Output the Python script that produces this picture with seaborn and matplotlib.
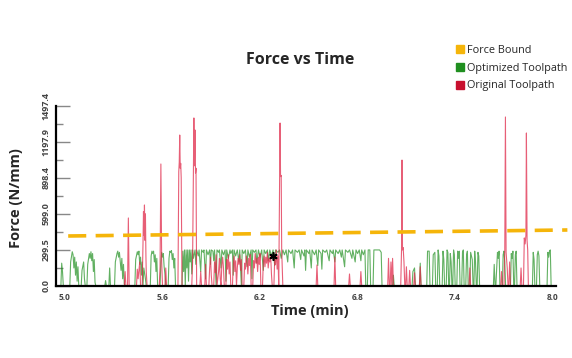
import matplotlib
matplotlib.use("Agg")
import matplotlib.pyplot as plt
from matplotlib.lines import Line2D
from matplotlib.ticker import FixedLocator
import seaborn as sns
import pandas as pd

# ---------------- data ----------------
opt_t = [4.975, 4.98, 4.985, 4.99, 5.03, 5.035, 5.045, 5.05, 5.055, 5.06, 5.065, 5.07, 5.075, 5.08, 5.085,
         5.10, 5.105, 5.115, 5.12, 5.125, 5.135, 5.14, 5.15, 5.155, 5.16, 5.165, 5.17, 5.175, 5.18, 5.185, 5.19,
         5.245, 5.25, 5.255, 5.27, 5.275, 5.28, 5.305, 5.31, 5.32, 5.325, 5.33, 5.335, 5.34, 5.345, 5.35, 5.355,
         5.36, 5.365, 5.37, 5.43, 5.435, 5.445, 5.45, 5.455, 5.46, 5.465, 5.47, 5.475, 5.48, 5.485, 5.495, 5.50,
         5.525, 5.53, 5.535, 5.54, 5.545, 5.55, 5.555, 5.56, 5.565, 5.57, 5.585, 5.59, 5.595, 5.60, 5.605, 5.61,
         5.615, 5.62, 5.635, 5.64, 5.645, 5.65, 5.655, 5.66, 5.665, 5.67, 5.675, 5.68, 5.72, 5.725, 5.73, 5.735,
         5.74, 5.745, 5.75, 5.755, 5.76, 5.765, 5.77, 5.775, 5.78, 5.785, 5.79, 5.80, 5.805, 5.81, 5.82, 5.825,
         5.835, 5.84, 5.85, 5.855, 5.865, 5.87, 5.88, 5.89, 5.895, 5.90, 5.91, 5.915, 5.92, 5.93, 5.935, 5.945,
         5.95, 5.96, 5.965, 5.975, 5.985, 5.99, 5.995, 6.005, 6.015, 6.02, 6.03, 6.035, 6.04, 6.05, 6.06, 6.07,
         6.075, 6.085, 6.09, 6.10, 6.11, 6.12, 6.125, 6.135, 6.145, 6.15, 6.155, 6.165, 6.175, 6.18, 6.19, 6.20,
         6.21, 6.22, 6.225, 6.235, 6.245, 6.25, 6.26, 6.27, 6.28, 6.29, 6.295, 6.31, 6.32, 6.33, 6.34, 6.35,
         6.36, 6.37, 6.375, 6.39, 6.40, 6.41, 6.415, 6.43, 6.44, 6.45, 6.455, 6.47, 6.475, 6.48, 6.485, 6.50,
         6.505, 6.515, 6.52, 6.535, 6.545, 6.555, 6.56, 6.575, 6.58, 6.585, 6.60, 6.61, 6.625, 6.63, 6.645, 6.65,
         6.66, 6.665, 6.68, 6.69, 6.70, 6.705, 6.72, 6.725, 6.74, 6.75, 6.765, 6.77, 6.785, 6.79, 6.80, 6.81,
         6.82, 6.825, 6.835, 6.845, 6.85, 6.86, 6.865, 6.875, 6.88, 6.895, 6.90, 6.935, 6.945, 6.95,
         7.015, 7.02, 7.025, 7.135, 7.14, 7.15, 7.155, 7.18, 7.185, 7.19, 7.225, 7.23, 7.24, 7.245,
         7.26, 7.265, 7.275, 7.28, 7.29, 7.295, 7.30, 7.305, 7.32, 7.325, 7.33, 7.335, 7.345, 7.35, 7.355, 7.36,
         7.365, 7.37, 7.375, 7.38, 7.385, 7.39, 7.395, 7.40, 7.41, 7.415, 7.42, 7.425, 7.43, 7.44, 7.445, 7.45,
         7.455, 7.465, 7.47, 7.475, 7.48, 7.49, 7.495, 7.505, 7.51, 7.515, 7.52, 7.525, 7.53, 7.535, 7.54, 7.545,
         7.55, 7.635, 7.64, 7.645, 7.65, 7.66, 7.665, 7.67, 7.675, 7.69, 7.695, 7.70, 7.705, 7.71, 7.74, 7.745,
         7.75, 7.755, 7.76, 7.765, 7.77, 7.775, 7.78, 7.875, 7.88, 7.885, 7.89, 7.90, 7.905, 7.91, 7.915, 7.92,
         7.965, 7.97, 7.975, 7.98, 7.985, 7.99, 8.0]
opt_f = [0, 190, 120, 0, 0, 200, 285, 260, 150, 240, 90, 200, 40, 160, 0,
         0, 130, 200, 60, 0, 0, 180, 270, 230, 285, 210, 270, 120, 220, 30, 0,
         0, 45, 0, 0, 150, 0, 0, 200, 270, 290, 240, 280, 200, 130, 230, 60,
         180, 20, 0, 0, 220, 285, 260, 290, 180, 240, 90, 200, 0, 150, 60, 0,
         0, 250, 290, 270, 290, 200, 260, 120, 230, 0, 0, 200, 280, 240, 270, 160,
         100, 0, 0, 230, 290, 280, 295, 220, 270, 150, 230, 0, 0, 290, 120, 300,
         0, 300, 150, 300, 40, 300, 200, 300, 100, 300, 230, 300, 180, 300, 250, 300,
         120, 300, 280, 300, 60, 300, 260, 300, 180, 300, 290, 210, 300, 0, 300, 280,
         300, 150, 300, 260, 300, 40, 300, 230, 300, 270, 300, 90, 300, 250, 300, 200,
         300, 0, 300, 270, 300, 160, 300, 240, 300, 60, 300, 280, 300, 190, 300, 240,
         300, 130, 300, 270, 300, 210, 300, 250, 300, 170, 300, 280, 300, 230, 300, 260,
         300, 200, 300, 270, 300, 150, 300, 280, 300, 220, 300, 250, 300, 130, 300, 270,
         300, 150, 300, 260, 300, 170, 300, 270, 140, 300, 280, 300, 210, 300, 270, 300,
         200, 300, 270, 300, 240, 300, 160, 300, 280, 300, 230, 300, 200, 300, 270, 300,
         210, 300, 260, 300, 0, 0, 300, 300, 0, 0, 300, 300, 280, 0,
         0, 90, 0, 0, 120, 150, 0, 0, 190, 0, 0, 290, 290, 0,
         0, 260, 280, 0, 0, 300, 250, 0, 0, 290, 220, 0, 0, 300, 280, 0,
         0, 270, 200, 0, 0, 300, 260, 0, 0, 290, 230, 290, 0, 0, 280, 300,
         0, 0, 260, 290, 0, 0, 280, 220, 0, 0, 290, 200, 0, 0, 280, 250,
         0, 0, 180, 10, 0, 280, 230, 290, 0, 0, 260, 290, 200, 0, 0, 270,
         230, 290, 0, 0, 260, 290, 0, 0, 280, 220, 0, 0, 260, 290, 250, 0,
         0, 280, 240, 290, 300, 0, 0]

orig_t = [4.95, 5.365, 5.37, 5.375, 5.385, 5.39, 5.395, 5.44, 5.445, 5.45, 5.46, 5.465, 5.475, 5.48, 5.483,
          5.486, 5.489, 5.492, 5.495, 5.498, 5.50, 5.505, 5.58, 5.585, 5.59, 5.595, 5.60, 5.615, 5.62, 5.625,
          5.695, 5.70, 5.703, 5.706, 5.709, 5.712, 5.715, 5.72, 5.78, 5.785, 5.79, 5.793, 5.796, 5.80, 5.803,
          5.806, 5.81, 5.83, 5.835, 5.84, 5.86, 5.865, 5.87, 5.885, 5.89, 5.895, 5.90, 5.905, 5.915, 5.92,
          5.925, 5.93, 5.935, 5.945, 5.95, 5.955, 5.96, 5.965, 5.97, 5.975, 5.98, 5.99, 5.995, 6.0, 6.005,
          6.01, 6.015, 6.02, 6.03, 6.035, 6.04, 6.045, 6.05, 6.055, 6.06, 6.065, 6.07, 6.075, 6.08, 6.085,
          6.09, 6.10, 6.105, 6.11, 6.115, 6.12, 6.125, 6.13, 6.135, 6.14, 6.145, 6.155, 6.16, 6.165, 6.17,
          6.175, 6.18, 6.185, 6.19, 6.195, 6.20, 6.205, 6.215, 6.22, 6.225, 6.23, 6.235, 6.24, 6.245, 6.25,
          6.255, 6.26, 6.265, 6.27, 6.275, 6.285, 6.29, 6.295, 6.30, 6.305, 6.31, 6.315, 6.32, 6.323, 6.326,
          6.33, 6.333, 6.34, 6.545, 6.55, 6.555, 6.655, 6.66, 6.665, 6.745, 6.75, 6.755, 6.815, 6.82, 6.825,
          6.985, 6.99, 6.995, 7.0, 7.005, 7.01, 7.015, 7.02, 7.065, 7.07, 7.073, 7.076, 7.08, 7.085, 7.09,
          7.095, 7.10, 7.105, 7.115, 7.12, 7.125, 7.145, 7.15, 7.155, 7.18, 7.185, 7.19, 7.485, 7.49, 7.495,
          7.68, 7.685, 7.69, 7.70, 7.705, 7.709, 7.713, 7.72, 7.725, 7.73, 7.735, 7.74, 7.80, 7.805, 7.81,
          7.82, 7.825, 7.83, 7.835, 7.838, 7.842, 7.846, 7.85, 8.0]
orig_f = [0, 0, 120, 0, 0, 566, 0, 0, 140, 60, 200, 0, 0, 350, 620,
          420, 674, 380, 600, 250, 120, 0, 0, 160, 1015, 200, 0, 0, 150, 0,
          0, 950, 1030, 1256, 980, 1020, 900, 0, 0, 200, 900, 1398, 1000, 1298, 940,
          980, 0, 0, 120, 0, 0, 180, 0, 0, 150, 240, 90, 0, 0, 200,
          110, 260, 0, 120, 230, 60, 0, 180, 240, 150, 0, 0, 220, 140, 260,
          100, 200, 0, 0, 170, 250, 120, 210, 0, 150, 230, 180, 260, 130, 220,
          0, 0, 190, 140, 250, 200, 100, 230, 170, 260, 0, 0, 210, 150, 270,
          190, 230, 120, 240, 180, 270, 0, 0, 200, 250, 160, 240, 190, 280, 150,
          230, 200, 260, 100, 0, 0, 220, 180, 300, 140, 250, 0, 900, 1356, 910,
          920, 300, 0, 0, 175, 0, 0, 240, 0, 0, 100, 0, 0, 120, 0,
          0, 230, 0, 0, 200, 0, 230, 0, 0, 300, 1048, 300, 320, 200, 0,
          0, 160, 0, 0, 130, 0, 0, 110, 0, 0, 160, 0, 0, 150, 0,
          0, 120, 0, 0, 300, 1406, 280, 150, 0, 0, 200, 0, 0, 150, 0,
          0, 400, 350, 420, 1273, 380, 300, 0, 0]

bound_t = [5.02, 8.09]
bound_f = [416, 466]

y_ticks = [0.0, 299.5, 599.0, 898.4, 1197.9, 1497.4]
y_tick_labels = ["0.0", "299.5", "599.0", "898.4", "1197.9", "1497.4"]
x_ticks = [5.0, 5.6, 6.2, 6.8, 7.4, 8.0]
x_tick_labels = ["5.0", "5.6", "6.2", "6.8", "7.4", "8.0"]
star_t, star_f = [6.28], [250]

legend_labels = ["Force Bound", "Optimized Toolpath", "Original Toolpath"]

# ---------------- style ----------------
sns.set_style("white")
plt.rcParams['font.family'] = ['Open Sans', 'DejaVu Sans']

GREEN = "#1f8f1f"
RED = "#e0294a"
GOLD = "#f5b50a"

W, H = 572, 358
fig = plt.figure(figsize=(W / 100, H / 100), dpi=100)
ax = fig.add_axes([56 / W, 1 - 286 / H, 500 / W, 180 / H])

opt_df = pd.DataFrame({"t": opt_t, "f": opt_f})
orig_df = pd.DataFrame({"t": orig_t, "f": orig_f})

sns.lineplot(data=opt_df, x="t", y="f", ax=ax, estimator=None, sort=False,
             color=GREEN, linewidth=0.8, alpha=0.7)
sns.lineplot(data=orig_df, x="t", y="f", ax=ax, estimator=None, sort=False,
             color=RED, linewidth=0.8, alpha=0.75)
ax.plot(bound_t, bound_f, color=GOLD, linewidth=2.6, dashes=(5, 2.6), clip_on=False)
ax.plot(star_t, star_f, marker=(6, 2, 0), color="black", markersize=6, linestyle="none", mew=1.2)

ax.set_xlim(4.945, 8.02)
ax.set_ylim(0, 1497.4)

for side in ["top", "right"]:
    ax.spines[side].set_visible(False)
for side in ["left", "bottom"]:
    ax.spines[side].set_color("black")
    ax.spines[side].set_linewidth(1.6)

ax.set_yticks(y_ticks)
ax.set_yticklabels(y_tick_labels, rotation=90, va="center", fontsize=6.5, color="#444444", fontweight="bold")
ax.yaxis.set_minor_locator(FixedLocator([149.75, 449.25, 748.7, 1048.15, 1347.65]))
ax.tick_params(axis="y", which="major", direction="in", length=10, width=1.0, color="#888888", pad=4, left=True)
ax.tick_params(axis="y", which="minor", direction="in", length=5, width=1.0, color="#888888", left=True)

ax.set_xticks(x_ticks)
ax.set_xticklabels(x_tick_labels, fontsize=6, color="#444444", fontweight="bold")
ax.tick_params(axis="x", which="major", length=0, pad=5)

ax.set_xlabel("Time (min)", fontsize=10.5, fontweight="bold")
ax.xaxis.set_label_coords((310 - 56) / 500, -(311 - 286) / 180)
ax.xaxis.label.set_va("center")
ax.set_ylabel("Force (N/mm)", fontsize=10.5, fontweight="bold")
ax.yaxis.set_label_coords(-(56 - 16) / 500, (286 - 198) / 180)
ax.yaxis.label.set_va("center")

fig.text(300 / W, 1 - 60 / H, "Force vs Time", ha="center", va="center",
         fontsize=11.5, fontweight="bold")

handles = [Line2D([], [], marker="s", linestyle="none", color=c, markersize=5.5)
           for c in [GOLD, GREEN, "#c8102e"]]
fig.legend(handles, legend_labels, loc="upper left", bbox_to_anchor=(456 / W, 1 - 45 / H),
           frameon=False, fontsize=7.8, handlelength=0.8, handletextpad=0.25,
           labelspacing=0.62, borderaxespad=0, borderpad=0)

fig.savefig("out.png", dpi=100, facecolor="white")
